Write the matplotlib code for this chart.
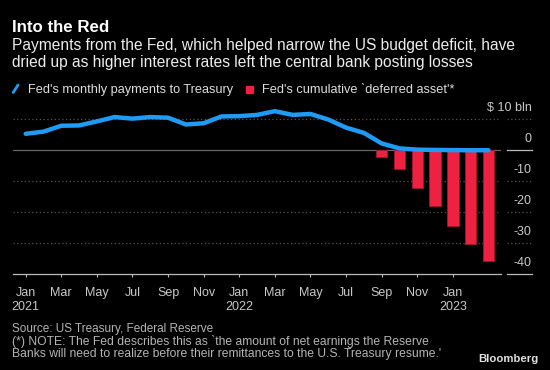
import matplotlib
matplotlib.use("Agg")
import matplotlib.pyplot as plt
from matplotlib.lines import Line2D
from matplotlib.patches import Rectangle

plt.rcParams['font.family'] = ['Liberation Sans', 'DejaVu Sans']

# months counted from Jan 2021 (0) to Mar 2023 (26)
months = list(range(27))
# Fed's monthly payments to Treasury, $ bln
payments = [5.3, 6.0, 7.9, 8.0, 9.3, 10.7, 10.2, 10.7, 10.5, 8.3, 8.7, 10.9,
            11.0, 11.4, 12.6, 11.4, 11.7, 9.9, 7.3, 5.6, 2.2, 0.6, 0.2, 0.1,
            0.05, 0.0, 0.0]
# Fed's cumulative deferred asset, $ bln (Sep 2022 - Mar 2023)
asset_months = [20, 21, 22, 23, 24, 25, 26]
deferred_asset = [-2.1, -6.1, -12.2, -17.9, -24.4, -30.1, -35.8]

tick_months = list(range(0, 25, 2))
tick_labels = ['Jan\n2021', 'Mar', 'May', 'Jul', 'Sep', 'Nov', 'Jan\n2022',
               'Mar', 'May', 'Jul', 'Sep', 'Nov', 'Jan\n2023']
y_levels = [10, 0, -10, -20, -30, -40]
y_labels = ['$ 10 bln', '0', '-10', '-20', '-30', '-40']

BLUE = '#1f9bf5'
RED = '#ee2140'
BG = '#000000'

W, H = 550, 370
fig = plt.figure(figsize=(W / 100, H / 100), dpi=100, facecolor=BG)


def fx(px):
    return px / W


def fy(py):
    return 1 - py / H


ax_left, ax_right, ax_top, ax_bottom = 12.7, 500.7, 100.0, 274.3
ax = fig.add_axes([fx(ax_left), fy(ax_bottom), fx(ax_right - ax_left),
                   (ax_bottom - ax_top) / H])
ax.set_facecolor(BG)

ax.set_xlim(-0.73, 26.69)
ax.set_ylim(-40, 16.2)

# grid lines
for v in y_levels:
    if v == 0:
        ax.axhline(v, color='#666666', lw=0.9, zorder=1)
    elif v != -40:
        ax.axhline(v, color='#555555', lw=0.9, ls=(0, (1, 2)), zorder=1)
    # short segment under the right-hand labels
    seg_style = '-' if v in (0, -40) else (0, (1, 2))
    seg_col = '#bbbbbb' if v in (0, -40) else '#555555'
    ax.plot([1.0123, 1.0635], [v, v], transform=ax.get_yaxis_transform(),
            color=seg_col, lw=0.9, ls=seg_style, clip_on=False)

ax.bar(asset_months, deferred_asset, width=0.64, color=RED,
       edgecolor='#a8142c', linewidth=0.6, zorder=2)
ax.plot(months, payments, color=BLUE, lw=3.2, solid_capstyle='round',
        solid_joinstyle='round', zorder=3)

for s in ['top', 'right', 'left']:
    ax.spines[s].set_visible(False)
ax.spines['bottom'].set_color('#bbbbbb')
ax.spines['bottom'].set_linewidth(0.9)

ax.set_yticks([])
ax.set_xticks(tick_months)
ax.set_xticklabels(tick_labels, fontsize=9, color='#c8c8c8', linespacing=1.2)
ax.tick_params(axis='x', direction='out', length=2.5, width=0.8,
               color='#bbbbbb', pad=6.5)

# right-hand value labels sitting above their lines
for v, lab in zip(y_levels, y_labels):
    ax.annotate(lab, xy=(1.0635, v), xycoords=ax.get_yaxis_transform(),
                xytext=(0, 11.5), textcoords='offset pixels',
                ha='right', va='center', fontsize=9, color='#c8c8c8',
                annotation_clip=False)

# headline texts
fig.text(fx(12.3), fy(31.7), 'Into the Red', fontsize=12.2, fontweight='bold',
         color='white', va='baseline')
fig.text(fx(12.3), fy(50.0),
         'Payments from the Fed, which helped narrow the US budget deficit, have',
         fontsize=11.2, color='#ececec', va='baseline')
fig.text(fx(12.3), fy(67.3),
         'dried up as higher interest rates left the central bank posting losses',
         fontsize=11.2, color='#ececec', va='baseline')

# legend
fig.add_artist(Line2D([fx(13.2), fx(18.0)], [fy(92.5), fy(85.0)], color=BLUE,
                      lw=2, solid_capstyle='round'))
fig.text(fx(28.3), fy(93.3), "Fed's monthly payments to Treasury", fontsize=9.2,
         color='#dddddd', va='baseline')
fig.add_artist(Rectangle((fx(245.7), fy(92.8)), fx(7.3), 7.3 / H,
                         color=RED, transform=fig.transFigure))
fig.text(fx(262), fy(93.3), "Fed's cumulative `deferred asset'*", fontsize=9.2,
         color='#dddddd', va='baseline')

# footer
fig.text(fx(12.3), fy(329), 'Source: US Treasury, Federal Reserve',
         fontsize=8.5, color='#b4b4b4', va='center')
fig.text(fx(12.3), fy(341.7),
         "(*) NOTE: The Fed describes this as `the amount of net earnings the Reserve",
         fontsize=8.7, color='#b4b4b4', va='center')
fig.text(fx(12.3), fy(354),
         "Banks will need to realize before their remittances to the U.S. Treasury resume.'",
         fontsize=8.7, color='#b4b4b4', va='center')
fig.text(fx(538.6), fy(359), 'Bloomberg', fontsize=8.2, fontweight='bold',
         color='#e0e0e0', ha='right', va='center')

fig.savefig('out.png', dpi=100, facecolor=BG)
